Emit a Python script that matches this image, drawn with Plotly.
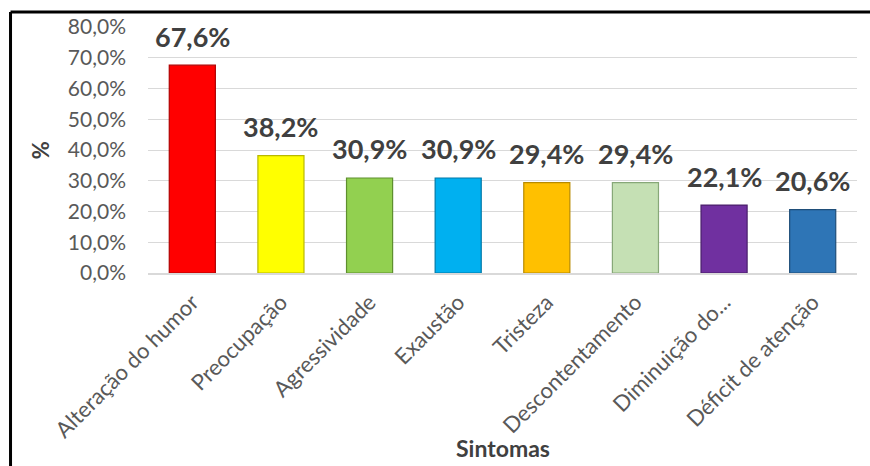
import plotly.graph_objects as go

categories = ["Alteração do humor", "Preocupação", "Agressividade", "Exaustão",
              "Tristeza", "Descontentamento", "Diminuição do...", "Déficit de atenção"]
values = [67.6, 38.2, 30.9, 30.9, 29.4, 29.4, 22.1, 20.6]
colors = ["#FF0000", "#FFFF00", "#92D050", "#00B0F0", "#FFC000", "#C5E0B4", "#7030A0", "#2E75B6"]
edge_colors = ["#B00000", "#B8B800", "#5E8F2E", "#0079A8", "#B88A00", "#87A878", "#4A1F6B", "#1F4E79"]
y_ticks = [0, 10, 20, 30, 40, 50, 60, 70, 80]
y_tick_text = [f"{t:.1f}%".replace(".", ",") for t in y_ticks]

FONT = "Lato"

fig = go.Figure()
fig.add_trace(go.Bar(
    x=categories, y=values,
    marker=dict(color=colors, line=dict(color=edge_colors, width=1.2)),
    hoverinfo="skip",
))

annotations = []
for c, v in zip(categories, values):
    annotations.append(dict(
        x=c, y=v, xref="x", yref="y", text=f"{v:.1f}%".replace(".", ","),
        showarrow=False, yanchor="middle", yshift=29,
        font=dict(family=FONT, size=27, color="#404040", weight="bold"),
    ))
annotations.append(dict(
    x=0.5, y=-0.712, xref="paper", yref="paper", text="Sintomas",
    showarrow=False, xanchor="center", yanchor="middle",
    font=dict(family=FONT, size=23, color="#404040", weight="bold"),
))
annotations.append(dict(
    x=-0.152, y=0.5, xref="paper", yref="paper", text="%", textangle=-90,
    showarrow=False, xanchor="center", yanchor="middle",
    font=dict(family=FONT, size=22, color="#404040", weight="bold"),
))

fig.update_layout(
    width=870, height=466,
    margin=dict(l=148, r=13, t=27, b=193),
    paper_bgcolor="white", plot_bgcolor="white",
    bargap=0.48,
    showlegend=False,
    annotations=annotations,
    font=dict(family=FONT),
    shapes=[
        dict(type="line", xref="paper", yref="paper", x0=-0.1939, x1=1.1, y0=1.061, y1=1.061,
             line=dict(color="black", width=3)),
        dict(type="line", xref="paper", yref="paper", x0=-0.1939, x1=-0.1939, y0=1.061, y1=-1.0,
             line=dict(color="black", width=3)),
    ],
)
fig.update_xaxes(
    tickangle=-45, tickfont=dict(family=FONT, size=22, color="#595959"),
    showline=True, linecolor="#D9D9D9", linewidth=1.5, ticks="", showgrid=False,
    ticklabelstandoff=6,
)
fig.update_yaxes(
    range=[0, 80], tickvals=y_ticks, ticktext=y_tick_text,
    tickfont=dict(family=FONT, size=21, color="#595959"),
    showgrid=True, gridcolor="#D9D9D9", gridwidth=1, zeroline=False, showline=False,
    ticklabelstandoff=21,
)

fig.write_html("out.html")
